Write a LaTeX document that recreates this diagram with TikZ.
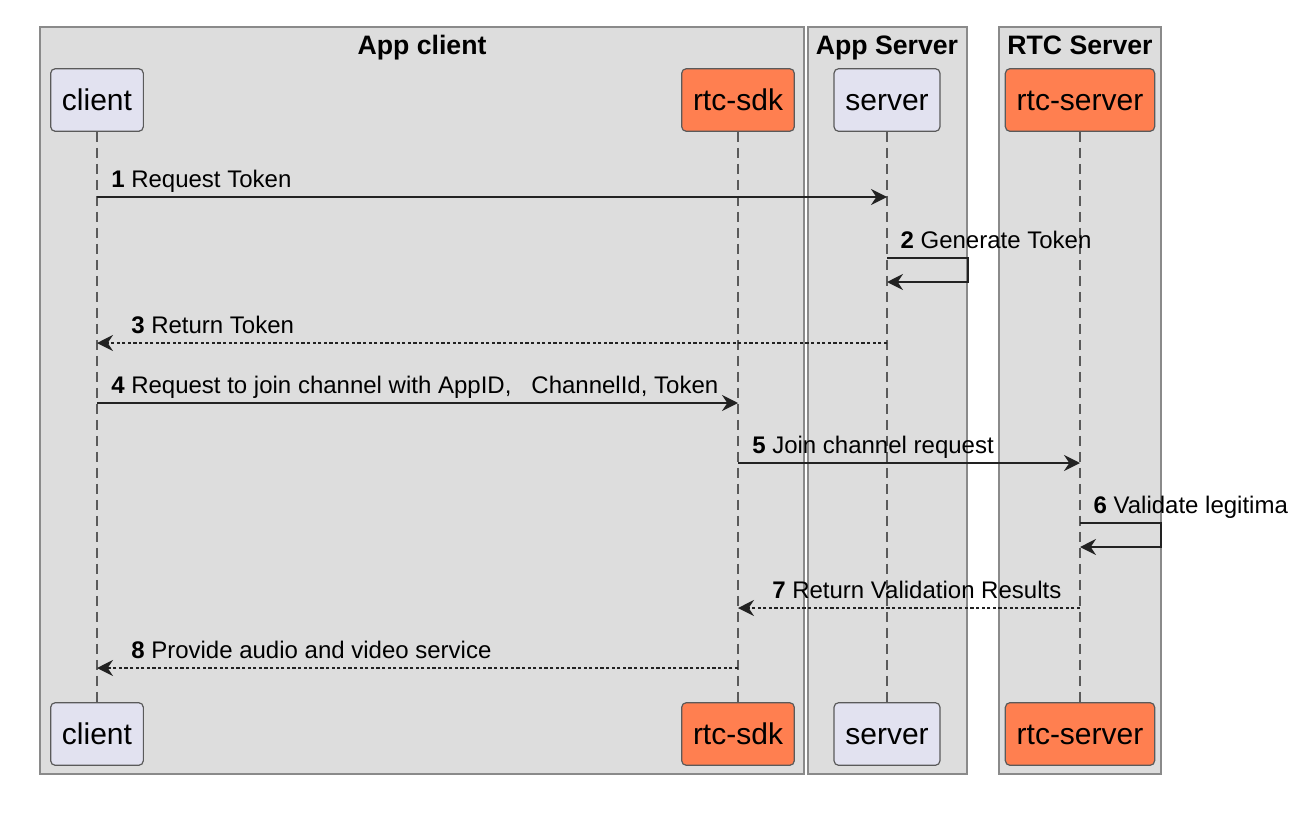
\documentclass[tikz,border=0pt]{standalone}
\usepackage{fontspec}
\setmainfont{Liberation Sans}
\usetikzlibrary{arrows.meta}
\definecolor{cgrp}{HTML}{DDDDDD}
\definecolor{cframe}{HTML}{8A8A8A}
\definecolor{cedge}{HTML}{5A5A5A}
\definecolor{clav}{HTML}{E2E2F0}
\definecolor{ccoral}{HTML}{FF7F50}
\definecolor{cline}{HTML}{222222}

\begin{document}
\begin{tikzpicture}[x=0.75pt, y=-0.75pt,
  frame/.style={draw=cframe, fill=cgrp, line width=1.5pt},
  title/.style={font=\fontsize{20}{22}\selectfont\bfseries, anchor=base, inner sep=0pt},
  part/.style={draw=cedge, rounded corners=3.5pt, line width=0.9pt, minimum height=47pt,
    inner xsep=8.5pt, text height=18pt, text depth=2pt, font=\fontsize{22.5}{24}\selectfont},
  usr/.style={part, fill=clav},
  rtc/.style={part, fill=ccoral},
  life/.style={cedge, dash pattern=on 7.5pt off 4.5pt, line width=0.8pt},
  sync/.style={-{Stealth[length=12pt,width=12pt,inset=4pt]}, line width=1.4pt, cline},
  ret/.style={sync, dash pattern=on 2.4pt off 1.8pt},
  lbl/.style={font=\fontsize{18}{20}\selectfont, anchor=base west, inner sep=0pt, text=black}]

\useasboundingbox (0,0) rectangle (1296,832);

% ---- boxes (groups)
\draw[frame] (40,27) rectangle (804,774);
\draw[frame] (808,27) rectangle (967,774);
\draw[frame] (999,27) rectangle (1161,774);
\node[title] (tapp) at (422,54) {App client};
\node[title] (tsrv) at (887,54) {App Server};
\node[title] (trtc) at (1080,54) {RTC Server};

% ---- participants, top and bottom row
\node[usr] (client) at (97,100)  {client};
\node[rtc] (sdk)    at (738,100) {rtc-sdk};
\node[usr] (server) at (887,100) {server};
\node[rtc] (rsrv)   at (1080,100){rtc-server};
\node[usr] (clientB) at (97,734)  {client};
\node[rtc] (sdkB)    at (738,734) {rtc-sdk};
\node[usr] (serverB) at (887,734) {server};
\node[rtc] (rsrvB)   at (1080,734){rtc-server};

% lifelines
\draw[life] (client) -- (clientB); \draw[life] (sdk) -- (sdkB);
\draw[life] (server) -- (serverB); \draw[life] (rsrv) -- (rsrvB);

% ---- message rows
\coordinate (m1) at (0,197); \coordinate (m2) at (0,258); \coordinate (m2b) at (0,282);
\coordinate (m3) at (0,343); \coordinate (m4) at (0,403); \coordinate (m5) at (0,463);
\coordinate (m6) at (0,523); \coordinate (m6b) at (0,547);
\coordinate (m7) at (0,608); \coordinate (m8) at (0,668);

\draw[sync] (client |- m1) -- (server |- m1)
  node[lbl, pos=0, xshift=10pt, yshift=7pt] {\textbf{1} Request Token};
\draw[sync] (server |- m2) -- ++(81,0) |- (server |- m2b);
\node[lbl, xshift=10pt, yshift=7pt] (l2) at (server |- m2) {\textbf{2} Generate Token};
\draw[ret] (server |- m3) -- (client |- m3)
  node[lbl, pos=1, xshift=25pt, yshift=7pt] {\textbf{3} Return Token};
\draw[sync] (client |- m4) -- (sdk |- m4)
  node[lbl, pos=0, xshift=10pt, yshift=7pt] {\textbf{4} Request to join channel with AppID,~~ ChannelId, Token};
\draw[sync] (sdk |- m5) -- (rsrv |- m5)
  node[lbl, pos=0, xshift=10pt, yshift=7pt] {\textbf{5} Join channel request};
\draw[sync] (rsrv |- m6) -- ++(81,0) |- (rsrv |- m6b);
\node[lbl, xshift=10pt, yshift=7pt] (l6) at (rsrv |- m6) {\textbf{6} Validate legitima};
\draw[ret] (rsrv |- m7) -- (sdk |- m7)
  node[lbl, pos=1, xshift=25pt, yshift=7pt] {\textbf{7} Return Validation Results};
\draw[ret] (sdk |- m8) -- (client |- m8)
  node[lbl, pos=1, xshift=25pt, yshift=7pt] {\textbf{8} Provide audio and video service};
\end{tikzpicture}
\end{document}
